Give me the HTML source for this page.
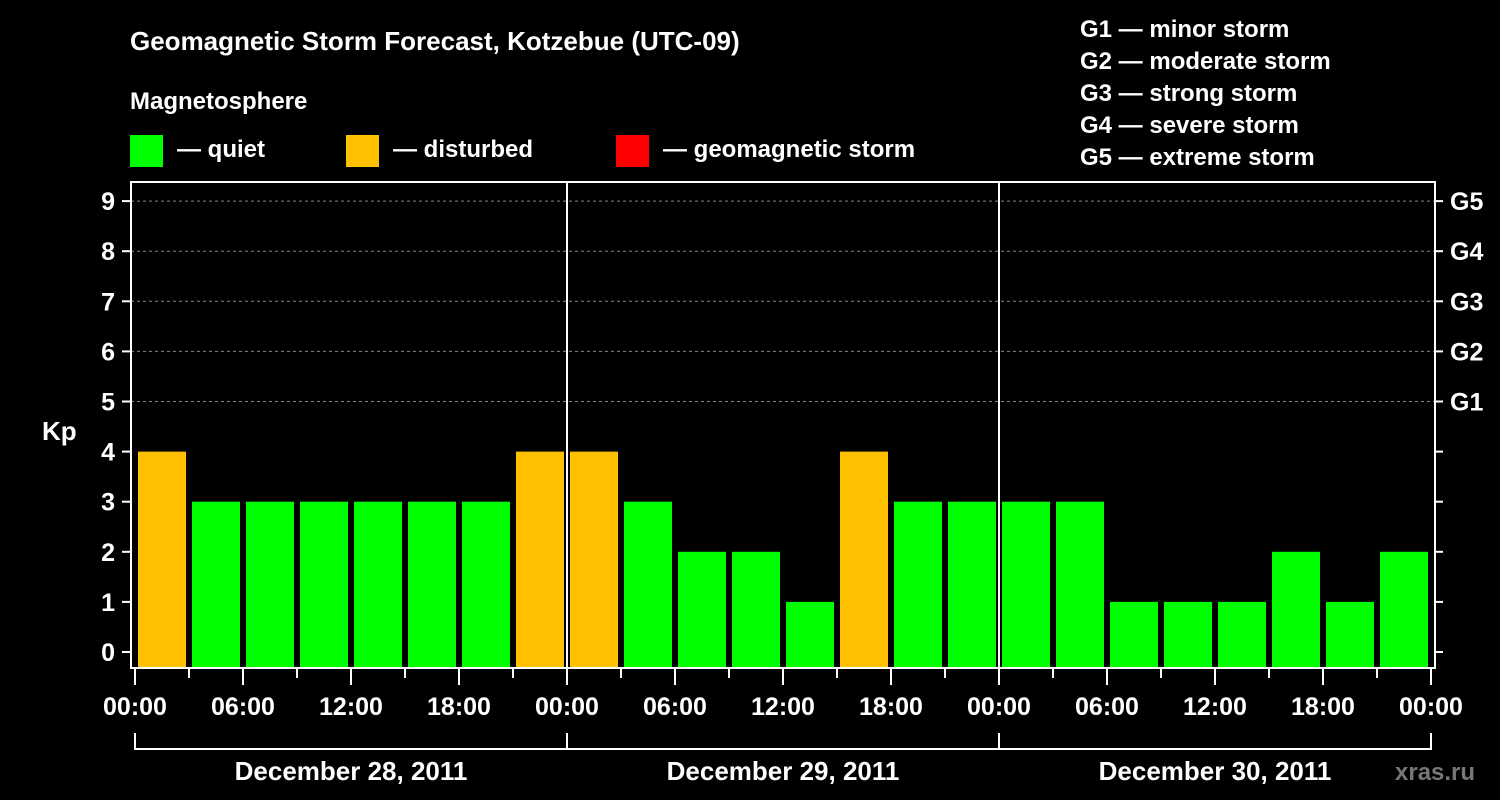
<!DOCTYPE html>
<html><head><meta charset="utf-8"><style>
body{margin:0;background:#000;width:1500px;height:800px;overflow:hidden}
svg{display:block}
text{font-family:"Liberation Sans",sans-serif;font-weight:bold;fill:#fff}
</style></head><body>
<svg id="c" width="1500" height="800">
<text x="130" y="50" font-size="26">Geomagnetic Storm Forecast, Kotzebue (UTC-09)</text>
<text x="130" y="109" font-size="24">Magnetosphere</text>
<rect x="130" y="135" width="33" height="32" fill="#00ff00"/>
<text x="177" y="157" font-size="24">— quiet</text>
<rect x="346" y="135" width="33" height="32" fill="#ffc000"/>
<text x="393" y="157" font-size="24">— disturbed</text>
<rect x="616" y="135" width="33" height="32" fill="#ff0000"/>
<text x="663" y="157" font-size="24">— geomagnetic storm</text>
<g font-size="24">
<text x="1080" y="37">G1 — minor storm</text>
<text x="1080" y="69">G2 — moderate storm</text>
<text x="1080" y="101">G3 — strong storm</text>
<text x="1080" y="133">G4 — severe storm</text>
<text x="1080" y="165">G5 — extreme storm</text>
</g>
<text x="42" y="440" font-size="26">Kp</text>
<text x="1395" y="780" font-size="24" fill="#888" style="fill:#777">xras.ru</text>
<g id="plot"></g>
</svg>
<script>
const values = [4,3,3,3,3,3,3,4, 4,3,2,2,1,4,3,3, 3,3,1,1,1,2,1,2];
const days = ["December 28, 2011","December 29, 2011","December 30, 2011"];
const hourLabels = ["00:00","06:00","12:00","18:00"];
const gLabels = ["G1","G2","G3","G4","G5"];
const NS="http://www.w3.org/2000/svg";
const g=document.getElementById('plot');
const X0=135, DAYW=432, SLOT=54;
const yK=k=>652-50.1*k;
const xH=h=>X0+h*(DAYW/24);
function el(t,a,txt){const e=document.createElementNS(NS,t);for(const k in a)e.setAttribute(k,a[k]);if(txt!==undefined)e.textContent=txt;g.appendChild(e);return e;}
// grid
for(let k=5;k<=9;k++){const e=el('line',{x1:131,x2:1435,y1:yK(k),y2:yK(k),stroke:'#888','stroke-dasharray':'3,3','stroke-width':1});

}
// bars
values.forEach((v,i)=>{const x=xH(i*3)+3;const e=el('rect',{x:x,y:yK(v),width:48,height:668-yK(v),fill:v>=5?'#ff0000':(v>=4?'#ffc000':'#00ff00')});

});
// day separators
for(let d=1;d<days.length;d++){const e=el('line',{x1:xH(d*24),x2:xH(d*24),y1:182,y2:668,stroke:'#fff','stroke-width':2});

}
// frame
const fr=el('rect',{x:131,y:182,width:1304,height:486,fill:'none',stroke:'#fff','stroke-width':2});


// y ticks
for(let k=0;k<=9;k++){
el('line',{x1:122,x2:131,y1:yK(k),y2:yK(k),stroke:'#fff','stroke-width':2});
el('line',{x1:1435,x2:1443,y1:yK(k),y2:yK(k),stroke:'#fff','stroke-width':2});
const t=el('text',{x:115,y:yK(k)+9,'font-size':25,'text-anchor':'end'},String(k));


}
gLabels.forEach((s,i)=>{const t=el('text',{x:1450,y:yK(5+i)+9,'font-size':25},s);

});
// x ticks
for(let h=0;h<=72;h+=3){const major=h%6===0;el('line',{x1:xH(h),x2:xH(h),y1:668,y2:major?685:678,stroke:'#fff','stroke-width':2});
if(major){const t=el('text',{x:xH(h),y:715,'font-size':25,'text-anchor':'middle'},hourLabels[(h%24)/6]);

}}
// day brackets
days.forEach((d,i)=>{
el('line',{x1:xH(i*24),x2:xH(i*24),y1:733,y2:750,stroke:'#fff','stroke-width':2});
el('line',{x1:xH(i*24),x2:xH(i*24+24),y1:749,y2:749,stroke:'#fff','stroke-width':2});
const t=el('text',{x:xH(i*24+12),y:780,'font-size':26,'text-anchor':'middle'},d);


});
el('line',{x1:xH(72),x2:xH(72),y1:733,y2:750,stroke:'#fff','stroke-width':2});
</script>
</body></html>
